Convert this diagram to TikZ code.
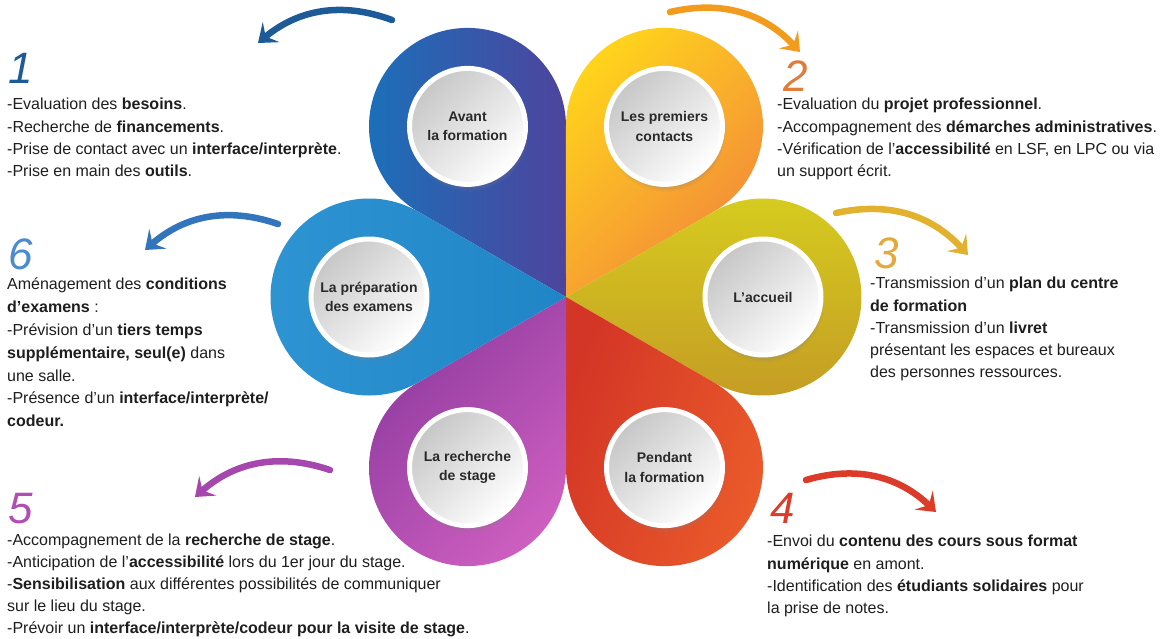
\documentclass[tikz,border=0pt]{standalone}
\usepackage{fontspec}
\setmainfont{Liberation Sans}
\usetikzlibrary{arrows.meta,shadows}

\definecolor{txtgray}{HTML}{1E1E1E}
\definecolor{lblgray}{HTML}{2A2A2A}
\definecolor{blueA}{HTML}{1C6FB9}
\definecolor{blueB}{HTML}{4D449D}
\definecolor{orA}{HTML}{FFD41C}
\definecolor{orB}{HTML}{F2843C}
\definecolor{olA}{HTML}{C49A24}
\definecolor{olB}{HTML}{D6CC1F}
\definecolor{redA}{HTML}{D33526}
\definecolor{redB}{HTML}{EA5A2A}
\definecolor{purA}{HTML}{8C399E}
\definecolor{purB}{HTML}{CE5FC0}
\definecolor{skyA}{HTML}{2F94D2}
\definecolor{skyB}{HTML}{2085C6}
\definecolor{arrOne}{HTML}{1D5A98}
\definecolor{arrTwo}{HTML}{F39B1C}
\definecolor{arrThree}{HTML}{E2B12E}
\definecolor{arrFour}{HTML}{DB3B28}
\definecolor{arrFive}{HTML}{A647AE}
\definecolor{arrSix}{HTML}{3375BC}
\definecolor{numTwo}{HTML}{E07B3A}
\definecolor{numThree}{HTML}{E5A93A}
\definecolor{numFive}{HTML}{B04FB3}
\definecolor{numSix}{HTML}{4C8BD0}

\begin{document}
\begin{tikzpicture}[x=1pt,y=1pt]
    \tikzstyle{stage} = [circle, draw=white, line width=5pt, minimum size=116pt, top color=black!22, bottom color=white, shading angle=45, text=lblgray, align=center, font=\fontsize{14}{19.5}\selectfont\bfseries, circular drop shadow={shadow xshift=1pt, shadow yshift=-5pt, shadow scale=1.04, opacity=0.45}]
    \tikzstyle{info} = [anchor=north west, align=left, inner sep=0pt, text=txtgray, font=\fontsize{16}{22.3}\selectfont]
    \tikzstyle{num} = [anchor=base west, inner sep=0pt, font=\fontsize{44}{44}\selectfont\itshape]
    \tikzstyle{swoosh} = [line width=6.5pt, line cap=round, -{Stealth[length=17pt,width=26pt,inset=7pt]}]

    \useasboundingbox (-566,-341) rectangle (595,297);

    % petals
    \foreach \a/\ca/\cb/\sa in {120/blueA/blueB/90, 60/orA/orB/45, 0/olA/olB/180, -60/redA/redB/70, -120/purA/purB/45, 180/skyA/skyB/90}
        \path[left color=\ca, right color=\cb, shading angle=\sa] (0,0) -- (\a-30:170.6) arc[start angle=\a-120, end angle=\a+120, radius=98.5] -- cycle;

    \node (avant) [stage] at (120:197) {Avant\\la formation};
    \node (contacts) [stage] at (60:197) {Les premiers\\contacts};
    \node (accueil) [stage] at (0:197) {L’accueil};
    \node (pendant) [stage] at (-60:197) {Pendant\\la formation};
    \node (stage) [stage] at (-120:197) {La recherche\\de stage};
    \node (examens) [stage] at (180:197) {La préparation\\des examens};

    % numbers
    \node (n1) [num, text=arrOne] at (-558,214) {1};
    \node (n2) [num, text=numTwo] at (217,206) {2};
    \node (n3) [num, text=numThree] at (308,29) {3};
    \node (n4) [num, text=arrFour] at (204,-226) {4};
    \node (n5) [num, text=numFive] at (-558,-226) {5};
    \node (n6) [num, text=numSix] at (-558,28) {6};

    % texts
    \node (t1) [info] at (-559,199) {-Evaluation des \textbf{besoins}.\\-Recherche de \textbf{financements}.\\-Prise de contact avec un \textbf{interface/interprète}.\\-Prise en main des \textbf{outils}.};
    \node (t2) [info] at (211,199) {-Evaluation du \textbf{projet professionnel}.\\-Accompagnement des \textbf{démarches administratives}.\\-Vérification de l’\textbf{accessibilité} en LSF, en LPC ou via\\un support écrit.};
    \node (t3) [info] at (304,20) {-Transmission d'un \textbf{plan du centre}\\\textbf{de formation}\\-Transmission d'un \textbf{livret}\\présentant les espaces et bureaux\\des personnes ressources.};
    \node (t4) [info] at (201,-238) {-Envoi du \textbf{contenu des cours sous format}\\\textbf{numérique} en amont.\\-Identification des \textbf{étudiants solidaires} pour\\la prise de notes.};
    \node (t5) [info, font=\fontsize{16}{22}\selectfont] at (-559,-237) {-Accompagnement de la \textbf{recherche de stage}.\\-Anticipation de l'\textbf{accessibilité} lors du 1er jour du stage.\\-\textbf{Sensibilisation} aux différentes possibilités de communiquer\\sur le lieu du stage.\\-Prévoir un \textbf{interface/interprète/codeur pour la visite de stage}.};
    \node (t6) [info, font=\fontsize{16}{22.8}\selectfont] at (-559,19) {Aménagement des \textbf{conditions}\\\textbf{d’examens} :\\-Prévision d’un \textbf{tiers temps}\\\textbf{supplémentaire, seul(e)} dans\\une salle.\\-Présence d’un \textbf{interface/interprète/}\\\textbf{codeur.}};

    % arrows
    \coordinate (a1s) at (-174,277); \coordinate (a1e) at (-308,254);
    \coordinate (a2s) at (104,285);  \coordinate (a2e) at (234,245);
    \coordinate (a3s) at (270,84);   \coordinate (a3e) at (402,42);
    \coordinate (a4s) at (240,-183); \coordinate (a4e) at (370,-215);
    \coordinate (a5s) at (-236,-173); \coordinate (a5e) at (-371,-200);
    \coordinate (a6s) at (-288,73);  \coordinate (a6e) at (-421,47);
    \draw [swoosh, arrOne] (a1s) to[bend right=30] (a1e);
    \draw [swoosh, arrTwo] (a2s) to[bend left=30] (a2e);
    \draw [swoosh, arrThree] (a3s) to[bend left=30] (a3e);
    \draw [swoosh, arrFour] (a4s) to[bend left=30] (a4e);
    \draw [swoosh, arrFive] (a5s) to[bend right=30] (a5e);
    \draw [swoosh, arrSix] (a6s) to[bend right=30] (a6e);
\end{tikzpicture}
\end{document}
